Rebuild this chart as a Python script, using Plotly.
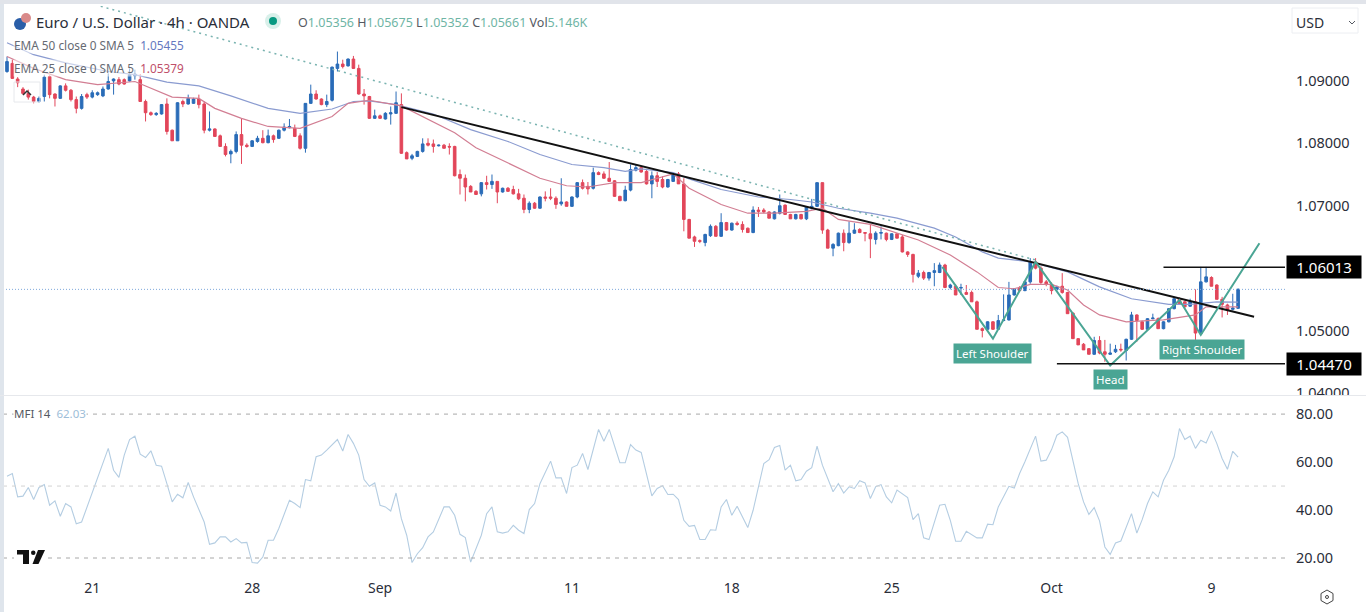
import plotly.graph_objects as go
from plotly.subplots import make_subplots

# 4h bars
open_ = [
    1.0915,1.0928,1.0903,1.0887,1.0880,1.0874,1.0867,1.0875,1.0907,1.0879,
    1.0872,1.0892,1.0885,1.0870,1.0856,1.0878,1.0874,1.0878,1.0876,1.0887,
    1.0900,1.0902,1.0902,1.0900,1.0908,1.0902,1.0867,1.0849,1.0846,1.0847,
    1.0863,1.0821,1.0804,1.0867,1.0863,1.0864,1.0871,1.0863,1.0821,1.0823,
    1.0812,1.0795,1.0783,1.0787,1.0814,1.0797,1.0795,1.0803,1.0808,1.0801,
    1.0812,1.0808,1.0821,1.0825,1.0824,1.0812,1.0792,1.0864,1.0879,1.0871,
    1.0862,1.0869,1.0920,1.0927,1.0924,1.0935,1.0920,1.0879,1.0875,1.0840,
    1.0844,1.0839,1.0847,1.0848,1.0862,1.0785,1.0776,1.0779,1.0787,1.0800,
    1.0799,1.0796,1.0797,1.0795,1.0795,1.0750,1.0744,1.0731,1.0723,1.0719,
    1.0737,1.0734,1.0739,1.0722,1.0728,1.0726,1.0719,1.0712,1.0694,1.0704,
    1.0696,1.0714,1.0714,1.0712,1.0703,1.0706,1.0699,1.0714,1.0737,1.0731,
    1.0728,1.0753,1.0751,1.0744,1.0740,1.0715,1.0708,1.0725,1.0757,1.0761,
    1.0755,1.0735,1.0748,1.0742,1.0730,1.0739,1.0751,1.0735,1.0678,1.0650,
    1.0644,1.0641,1.0652,1.0667,1.0651,1.0673,1.0661,1.0672,1.0670,1.0664,
    1.0657,1.0693,1.0693,1.0690,1.0679,1.0688,1.0701,1.0686,1.0679,1.0686,
    1.0679,1.0696,1.0699,1.0737,1.0661,1.0632,1.0636,1.0656,1.0641,1.0656,
    1.0662,1.0657,1.0655,1.0646,1.0656,1.0656,1.0646,1.0655,1.0650,1.0626,
    1.0622,1.0587,1.0593,1.0584,1.0593,1.0593,1.0605,1.0569,1.0571,1.0568,
    1.0561,1.0561,1.0546,1.0503,1.0502,1.0514,1.0502,1.0516,1.0517,1.0557,
    1.0569,1.0564,1.0578,1.0610,1.0600,1.0578,1.0574,1.0566,1.0571,1.0561,
    1.0528,1.0487,1.0478,1.0471,1.0462,1.0484,1.0466,1.0462,1.0466,1.0470,
    1.0468,1.0486,1.0525,1.0514,1.0502,1.0519,1.0519,1.0503,1.0514,1.0535,
    1.0551,1.0546,1.0539,1.0546,1.0495,1.0578,1.0585,1.0573,1.0550,1.0541,
    1.0534,1.05356,
]
high = [
    1.0939,1.0934,1.0906,1.0890,1.0886,1.0876,1.0875,1.0910,1.0909,1.0880,
    1.0893,1.0896,1.0887,1.0875,1.0879,1.0881,1.0885,1.0883,1.0891,1.0912,
    1.0904,1.0906,1.0904,1.0920,1.0918,1.0911,1.0870,1.0851,1.0850,1.0863,
    1.0872,1.0822,1.0866,1.0870,1.0878,1.0873,1.0878,1.0867,1.0851,1.0824,
    1.0814,1.0800,1.0790,1.0819,1.0840,1.0800,1.0805,1.0812,1.0821,1.0822,
    1.0814,1.0822,1.0832,1.0839,1.0830,1.0816,1.0864,1.0894,1.0885,1.0872,
    1.0878,1.0923,1.0947,1.0934,1.0936,1.0940,1.0926,1.0887,1.0876,1.0854,
    1.0846,1.0850,1.0859,1.0883,1.0880,1.0787,1.0783,1.0788,1.0808,1.0808,
    1.0806,1.0798,1.0799,1.0800,1.0796,1.0758,1.0750,1.0733,1.0725,1.0738,
    1.0748,1.0750,1.0739,1.0729,1.0730,1.0732,1.0727,1.0718,1.0707,1.0706,
    1.0715,1.0723,1.0728,1.0715,1.0744,1.0707,1.0715,1.0738,1.0742,1.0738,
    1.0761,1.0755,1.0755,1.0770,1.0741,1.0716,1.0732,1.0766,1.0766,1.0763,
    1.0757,1.0755,1.0754,1.0747,1.0743,1.0753,1.0754,1.0744,1.0679,1.0652,
    1.0646,1.0655,1.0670,1.0669,1.0688,1.0674,1.0673,1.0675,1.0675,1.0665,
    1.0699,1.0698,1.0696,1.0691,1.0691,1.0718,1.0702,1.0687,1.0687,1.0687,
    1.0699,1.0711,1.0737,1.0737,1.0663,1.0640,1.0657,1.0662,1.0675,1.0672,
    1.0664,1.0657,1.0670,1.0659,1.0667,1.0657,1.0656,1.0656,1.0653,1.0627,
    1.0623,1.0597,1.0596,1.0594,1.0608,1.0609,1.0607,1.0575,1.0574,1.0575,
    1.0573,1.0564,1.0548,1.0505,1.0515,1.0515,1.0525,1.0558,1.0578,1.0568,
    1.0571,1.0579,1.0616,1.0616,1.0603,1.0581,1.0577,1.0572,1.0592,1.0562,
    1.0529,1.0488,1.0480,1.0472,1.0490,1.0491,1.0485,1.0479,1.0477,1.0479,
    1.0487,1.0530,1.0526,1.0516,1.0520,1.0527,1.0521,1.0515,1.0536,1.0552,
    1.0553,1.0548,1.0551,1.0566,1.0602,1.0602,1.0587,1.0574,1.0554,1.0543,
    1.0559,1.05675,
]
low = [
    1.0913,1.0903,1.0890,1.0878,1.0870,1.0864,1.0865,1.0867,1.0872,1.0859,
    1.0871,1.0883,1.0867,1.0848,1.0854,1.0871,1.0872,1.0876,1.0874,1.0886,
    1.0878,1.0893,1.0894,1.0899,1.0902,1.0867,1.0835,1.0844,1.0844,1.0846,
    1.0814,1.0804,1.0804,1.0858,1.0862,1.0863,1.0856,1.0816,1.0819,1.0811,
    1.0795,1.0779,1.0768,1.0784,1.0767,1.0793,1.0794,1.0801,1.0800,1.0800,
    1.0801,1.0807,1.0819,1.0824,1.0810,1.0790,1.0785,1.0863,1.0870,1.0861,
    1.0858,1.0867,1.0915,1.0920,1.0923,1.0919,1.0878,1.0862,1.0839,1.0839,
    1.0839,1.0838,1.0830,1.0847,1.0783,1.0775,1.0773,1.0778,1.0785,1.0795,
    1.0785,1.0795,1.0792,1.0782,1.0747,1.0718,1.0707,1.0722,1.0718,1.0715,
    1.0726,1.0727,1.0704,1.0721,1.0722,1.0718,1.0709,1.0688,1.0688,1.0695,
    1.0695,1.0707,1.0709,1.0695,1.0700,1.0699,1.0698,1.0712,1.0726,1.0718,
    1.0726,1.0749,1.0743,1.0739,1.0714,1.0708,1.0707,1.0723,1.0755,1.0753,
    1.0734,1.0712,1.0730,1.0728,1.0729,1.0738,1.0735,1.0659,1.0648,1.0634,
    1.0640,1.0635,1.0650,1.0651,1.0650,1.0660,1.0660,1.0668,1.0657,1.0657,
    1.0656,1.0682,1.0688,1.0680,1.0678,1.0686,1.0686,1.0679,1.0678,1.0678,
    1.0677,1.0694,1.0698,1.0655,1.0632,1.0619,1.0635,1.0627,1.0639,1.0655,
    1.0656,1.0643,1.0616,1.0638,1.0646,1.0643,1.0645,1.0648,1.0625,1.0618,
    1.0577,1.0584,1.0581,1.0580,1.0571,1.0592,1.0568,1.0566,1.0557,1.0557,
    1.0557,1.0546,1.0502,1.0489,1.0500,1.0501,1.0501,1.0515,1.0516,1.0556,
    1.0564,1.0563,1.0575,1.0598,1.0573,1.0571,1.0558,1.0564,1.0559,1.0527,
    1.0487,1.0477,1.0469,1.0462,1.0461,1.0462,1.0450,1.0461,1.0464,1.0466,
    1.0452,1.0485,1.0482,1.0501,1.0501,1.0518,1.0503,1.0502,1.0513,1.0534,
    1.0541,1.0537,1.0538,1.0485,1.0493,1.0577,1.0571,1.0550,1.0521,1.0525,
    1.0532,1.05352,
]
close = [
    1.0931,1.0904,1.0897,1.0880,1.0874,1.0867,1.0872,1.0906,1.0878,1.0872,
    1.0892,1.0885,1.0870,1.0856,1.0875,1.0874,1.0881,1.0881,1.0887,1.0899,
    1.0903,1.0895,1.0895,1.0910,1.0911,1.0867,1.0849,1.0846,1.0848,1.0862,
    1.0819,1.0804,1.0865,1.0863,1.0872,1.0871,1.0862,1.0821,1.0823,1.0811,
    1.0795,1.0782,1.0787,1.0814,1.0797,1.0795,1.0804,1.0808,1.0801,1.0812,
    1.0806,1.0821,1.0826,1.0827,1.0811,1.0792,1.0864,1.0879,1.0871,1.0862,
    1.0867,1.0922,1.0927,1.0923,1.0935,1.0920,1.0879,1.0876,1.0840,1.0844,
    1.0840,1.0848,1.0849,1.0865,1.0784,1.0775,1.0780,1.0787,1.0799,1.0797,
    1.0795,1.0797,1.0792,1.0794,1.0748,1.0744,1.0730,1.0722,1.0718,1.0737,
    1.0734,1.0739,1.0722,1.0728,1.0723,1.0719,1.0711,1.0694,1.0704,1.0696,
    1.0714,1.0712,1.0712,1.0702,1.0706,1.0699,1.0714,1.0737,1.0728,1.0727,
    1.0753,1.0750,1.0744,1.0739,1.0715,1.0708,1.0725,1.0758,1.0761,1.0754,
    1.0735,1.0748,1.0739,1.0730,1.0742,1.0750,1.0735,1.0678,1.0648,1.0643,
    1.0643,1.0654,1.0667,1.0651,1.0673,1.0661,1.0672,1.0670,1.0662,1.0657,
    1.0693,1.0691,1.0690,1.0680,1.0690,1.0700,1.0686,1.0679,1.0686,1.0679,
    1.0698,1.0699,1.0737,1.0661,1.0632,1.0638,1.0656,1.0641,1.0656,1.0661,
    1.0657,1.0656,1.0647,1.0656,1.0657,1.0646,1.0655,1.0648,1.0626,1.0622,
    1.0590,1.0592,1.0584,1.0593,1.0596,1.0605,1.0569,1.0573,1.0557,1.0569,
    1.0558,1.0546,1.0502,1.0500,1.0514,1.0502,1.0516,1.0517,1.0557,1.0567,
    1.0564,1.0578,1.0610,1.0600,1.0577,1.0574,1.0564,1.0570,1.0561,1.0527,
    1.0487,1.0477,1.0469,1.0462,1.0484,1.0464,1.0462,1.0464,1.0470,1.0469,
    1.0486,1.0525,1.0516,1.0502,1.0519,1.0520,1.0503,1.0514,1.0535,1.0551,
    1.0542,1.0538,1.0546,1.0496,1.0578,1.0586,1.0571,1.0550,1.0542,1.0533,
    1.0536,1.05661,
]
bars = list(range(len(close)))

ema50_bar = [0,5,11,19,24,30,36,42,49,55,61,65,68,73,80,87,94,100,106,112,116,119,125,128,
             134,141,147,151,156,162,167,174,178,183,186,192,199,205,211,218,222,227,231]
ema50 = [1.0961,1.0942,1.0929,1.0915,1.0910,1.0898,1.0892,1.0876,1.0856,1.0848,1.0855,1.0867,
         1.0868,1.0862,1.0847,1.0822,1.0803,1.0782,1.0766,1.0761,1.0755,1.0759,1.0753,1.0743,
         1.0726,1.0714,1.0710,1.0706,1.0696,1.0688,1.0680,1.0664,1.0650,1.0626,1.0616,1.0610,
         1.0594,1.0570,1.0551,1.0542,1.0542,1.0546,1.05455]

ema25_bar = [0,5,11,17,24,27,31,36,39,44,49,55,57,61,64,68,74,78,84,88,96,100,105,109,114,119,
             125,128,134,139,144,150,153,156,162,167,171,177,182,186,189,192,196,199,202,205,
             210,214,217,223,225,231]
ema25 = [1.0939,1.0920,1.0902,1.0894,1.0899,1.0888,1.0874,1.0872,1.0856,1.0840,1.0827,1.0824,
         1.0830,1.0843,1.0864,1.0869,1.0860,1.0843,1.0817,1.0793,1.0761,1.0744,1.0732,1.0730,
         1.0737,1.0737,1.0751,1.0728,1.0702,1.0688,1.0688,1.0691,1.0696,1.0678,1.0670,1.0656,
         1.0645,1.0621,1.0594,1.0569,1.0567,1.0574,1.0574,1.0565,1.0541,1.0525,1.0514,1.0516,
         1.0517,1.0525,1.0538,1.05379]

mfi_bar = [0,1,2,3,4,5,6,7,8,9,10,11,12,13,14,15,17,19,20,21,22,23,24,25,26,27,28,29,30,31,32,33,
           34,35,37,38,39,40,41,42,43,44,45,46,47,48,49,50,51,53,54,55,56,57,58,59,60,62,63,64,
           65,66,67,68,69,70,71,72,73,74,75,76,77,78,79,80,82,83,84,85,86,87,89,90,91,92,93,94,
           95,96,97,98,99,100,102,103,104,105,106,107,108,109,111,112,113,114,115,116,117,118,
           119,121,122,123,124,125,126,127,128,129,130,131,132,133,134,135,136,137,139,140,142,
           143,144,145,146,147,148,149,150,151,152,153,155,156,157,158,159,160,161,162,163,164,
           165,166,167,169,170,171,172,173,175,176,177,178,179,180,181,182,183,184,185,186,188,
           189,190,191,193,194,195,196,197,198,199,200,201,202,203,204,205,206,207,208,209,211,
           212,213,214,215,216,217,218,219,220,221,222,223,224,225,226,227,228,229,230,231]
mfi = [54.1,55.2,45.5,45.8,49.4,44.4,49.4,50.6,42.0,43.8,37.4,42.7,41.3,34.3,35.0,41.3,53.1,65.7,
       56.6,53.6,62.9,69.4,70.8,63.3,61.9,64.7,58.7,58.3,51.0,43.4,46.6,45.1,51.5,45.5,35.0,25.7,
       26.3,28.8,28.8,26.7,28.1,26.3,26.5,18.1,17.9,20.4,27.4,27.4,32.3,44.1,42.7,41.0,52.7,52.2,
       62.2,62.9,65.0,69.4,64.6,71.5,67.8,62.9,52.7,49.9,51.3,42.0,41.3,39.6,47.1,36.4,29.5,18.1,
       21.8,24.3,28.8,30.9,41.3,41.3,37.8,29.9,28.5,18.3,29.5,38.5,41.3,30.9,30.4,30.9,33.6,31.6,
       30.2,40.2,42.7,51.0,60.4,53.4,53.4,46.9,57.7,58.7,63.6,56.9,73.6,68.7,73.6,67.1,59.7,59.7,
       67.3,65.0,64.0,45.9,49.0,50.1,46.5,46.6,44.4,35.7,33.2,33.6,27.7,27.7,31.8,31.6,41.3,44.4,
       37.8,41.6,32.7,39.9,59.4,61.0,66.1,66.9,56.6,58.7,52.2,52.7,56.2,57.7,66.6,58.7,47.6,51.0,
       47.1,49.7,49.0,52.2,51.3,44.8,49.7,50.6,45.5,43.0,48.3,45.2,36.0,38.5,28.4,27.7,42.0,42.4,
       35.7,27.0,27.0,31.1,29.9,28.4,28.4,34.1,33.9,41.3,49.9,49.2,55.2,60.1,70.8,60.4,60.8,65.2,
       71.2,72.6,70.3,60.1,51.0,43.4,38.2,41.0,35.5,24.6,21.5,26.3,27.1,38.5,30.4,36.0,42.7,47.6,
       45.5,52.4,56.6,62.2,74.0,69.4,70.8,65.7,69.1,68.0,73.0,67.8,61.5,57.0,64.5,62.03]

# drawn lines
trend_bar = [74, 234]
trend_price = [1.0858, 1.0522]
dotted_bar = [16.5, 193]
dotted_price = [1.1022, 1.0613]
pattern_bar = [175.5, 185, 193, 207, 220, 224, 235]
pattern_price = [1.0602, 1.0487, 1.0610, 1.0444, 1.0549, 1.0493, 1.0640]
level_high_bar = [217, 240]
level_high = [1.06013, 1.06013]
level_low_bar = [197, 240]
level_low = [1.04470, 1.04470]
last_price = 1.0566

tick_bars = [16, 46, 70, 106, 136, 166, 196, 226]
tick_labels = ["21", "28", "Sep", "11", "18", "25", "Oct", "9"]
price_ticks = [1.04, 1.05, 1.07, 1.08, 1.09]
mfi_ticks = [20, 40, 60, 80]

FONT = "Noto Sans"
INK = "#2a2e39"
BLUE = "#2a6cb8"
RED = "#e2465a"
TEAL = "#4aa594"
VAL = "#6fb5a5"
VEIL = "rgba(255,255,255,0.55)"

W, H = 1366, 612
L, R, T, B = 3, 81, 6, 34
pw, ph = W - L - R, H - T - B


# page pixels to paper coords, for the furniture around the plot
def px(x):
    return (x - L) / pw


def py(y):
    return 1 - (y - T) / ph


fig = make_subplots(rows=2, cols=1, shared_xaxes=True, vertical_spacing=0.002,
                    row_heights=[0.68, 0.318])

fig.add_trace(go.Candlestick(x=bars, open=open_, high=high, low=low, close=close,
                             increasing=dict(line=dict(color=BLUE, width=1), fillcolor=BLUE),
                             decreasing=dict(line=dict(color=RED, width=1), fillcolor=RED),
                             whiskerwidth=0, showlegend=False), row=1, col=1)
fig.add_trace(go.Scatter(x=ema50_bar, y=ema50, mode="lines", line=dict(color="#8a9bd0", width=1.2)),
              row=1, col=1)
fig.add_trace(go.Scatter(x=ema25_bar, y=ema25, mode="lines", line=dict(color="#d27e93", width=1.2)),
              row=1, col=1)
fig.add_trace(go.Scatter(x=dotted_bar, y=dotted_price, mode="lines",
                         line=dict(color="#79b3b0", width=1.5, dash="2px,4px")), row=1, col=1)
fig.add_trace(go.Scatter(x=trend_bar, y=trend_price, mode="lines", line=dict(color="#111111", width=2)),
              row=1, col=1)
fig.add_trace(go.Scatter(x=pattern_bar, y=pattern_price, mode="lines", line=dict(color=TEAL, width=2)),
              row=1, col=1)
fig.add_trace(go.Scatter(x=level_high_bar, y=level_high, mode="lines", line=dict(color="#111111", width=1.5)),
              row=1, col=1)
fig.add_trace(go.Scatter(x=level_low_bar, y=level_low, mode="lines", line=dict(color="#111111", width=1.5)),
              row=1, col=1)
fig.add_hline(y=last_price, row=1, col=1, line=dict(color="#7fa9dc", width=1, dash="1px,2px"))

fig.add_trace(go.Scatter(x=mfi_bar, y=mfi, mode="lines", line=dict(color="#b4cde2", width=1.1)),
              row=2, col=1)
fig.add_hline(y=80, row=2, col=1, line=dict(color="#a8a8a8", width=1, dash="4px,5px"))
fig.add_hline(y=50, row=2, col=1, line=dict(color="#d2d2d2", width=1, dash="4px,5px"))
fig.add_hline(y=20, row=2, col=1, line=dict(color="#a8a8a8", width=1, dash="4px,5px"))

fig.update_xaxes(range=[-0.75, 239.8], showgrid=False, zeroline=False, showline=False,
                 rangeslider_visible=False, ticks="", fixedrange=True)
fig.update_xaxes(tickmode="array", tickvals=tick_bars, ticktext=tick_labels,
                 tickfont=dict(family=FONT, size=14, color=INK), row=2, col=1)
fig.update_yaxes(showgrid=False, zeroline=False, showline=False, side="right", ticks="",
                 ticklabelstandoff=10, tickfont=dict(family=FONT, size=14.5, color=INK), fixedrange=True)
fig.update_yaxes(range=[1.03968, 1.1020], tickvals=price_ticks, tickformat=".5f", row=1, col=1)
fig.update_yaxes(range=[11.67, 87.5], tickvals=mfi_ticks, tickformat=".2f", row=2, col=1)

notes = [
    dict(x=px(35), y=py(22), text="Euro / U.S. Dollar · 4h · OANDA", size=15, color=INK),
    dict(x=px(297), y=py(22), size=12.5, color="#555962",
         text=f"O<span style='color:{VAL}'>1.05356</span> H<span style='color:{VAL}'>1.05675</span> "
              f"L<span style='color:{VAL}'>1.05352</span> C<span style='color:{VAL}'>1.05661</span> "
              f"Vol<span style='color:{VAL}'>5.146K</span>"),
    dict(x=px(13), y=py(45), size=11.8, color="#666a73", bg=VEIL,
         text="EMA 50 close 0 SMA 5 &nbsp;<span style='color:#6478c0'>1.05455</span>"),
    dict(x=px(13), y=py(68), size=11.8, color="#666a73", bg=VEIL,
         text="EMA 25 close 0 SMA 5 &nbsp;<span style='color:#c0506a'>1.05379</span>"),
    dict(x=px(13), y=py(413), size=11.5, color="#555962", bg="white",
         text="MFI 14 &nbsp;<span style='color:#9dbdd8'>62.03</span>"),
    dict(x=px(1295), y=py(22), text="USD", size=14, color=INK),
]
for n in notes:
    fig.add_annotation(xref="paper", yref="paper", x=n["x"], y=n["y"], text=n["text"], showarrow=False,
                       xanchor="left", yanchor="middle", bgcolor=n.get("bg", "rgba(0,0,0,0)"),
                       borderpad=0, font=dict(family=FONT, size=n["size"], color=n["color"]))

# pattern badges
for bar, price, label in [(185, 1.0464, "Left Shoulder"), (207, 1.0421, "Head"), (224.2, 1.0469, "Right Shoulder")]:
    fig.add_annotation(x=bar, y=price, xref="x", yref="y", text=label, showarrow=False, bgcolor=TEAL,
                       borderpad=2, font=dict(family=FONT, size=11.5, color="white"))

# black price tags on the axis
for price, label in [(1.06013, "1.06013"), (1.04470, "1.04470")]:
    fig.add_annotation(xref="paper", yref="y", x=1, y=price, text=label, showarrow=False, xanchor="left",
                       xshift=1, width=72, height=20, bgcolor="black", align="center",
                       font=dict(family=FONT, size=15, color="white"))

shapes = [
    dict(type="rect", x0=px(0), x1=px(4), y0=py(0), y1=py(612), fillcolor="#dfe5ec", line_width=0),
    dict(type="rect", x0=px(0), x1=px(1366), y0=py(0), y1=py(4), fillcolor="#e1e4ea", line_width=0),
    # cuts the lowest price tick the way the pane edge does
    dict(type="rect", x0=px(1286), x1=px(1366), y0=py(395), y1=py(408), fillcolor="white", line_width=0),
    dict(type="line", x0=px(0), x1=px(1366), y0=py(395.5), y1=py(395.5), line=dict(color="#e6e8ec", width=1)),
    # USD box
    dict(type="rect", x0=px(1292), x1=px(1358), y0=py(8), y1=py(33), line=dict(color="#eceef2", width=1)),
    dict(type="path", path=f"M {px(1349)} {py(21)} L {px(1352)} {py(24)} L {px(1355)} {py(21)}",
         line=dict(color="#555962", width=1)),
    # status dot
    dict(type="circle", x0=px(265), x1=px(281), y0=py(13), y1=py(29), fillcolor="#d9f0ea", line_width=0),
    dict(type="circle", x0=px(269), x1=px(277), y0=py(17), y1=py(25), fillcolor="#089981", line_width=0),
    # symbol flags
    dict(type="circle", x0=px(14), x1=px(26), y0=py(18), y1=py(30), fillcolor="#2a5ea8", line_width=0),
    dict(type="circle", x0=px(21), x1=px(31), y0=py(13), y1=py(23), fillcolor="#d98a8a", line_width=0),
    # collapse button
    dict(type="rect", x0=px(14), x1=px(40), y0=py(82), y1=py(102), line=dict(color="#e6e8ec", width=1)),
    dict(type="path", path=f"M {px(23)} {py(95)} L {px(27)} {py(91)} L {px(31)} {py(95)}",
         line=dict(color="#333333", width=1.5)),
    # logo, on a white patch that breaks the dashed line
    dict(type="rect", x0=px(14), x1=px(47), y0=py(548), y1=py(567), fillcolor="white", line_width=0),
    dict(type="path", path=f"M {px(17)} {py(550)} L {px(29)} {py(550)} L {px(29)} {py(564)} L {px(23)} {py(564)} "
                           f"L {px(23)} {py(554.5)} L {px(17)} {py(554.5)} Z", fillcolor="#111111", line_width=0),
    dict(type="circle", x0=px(31), x1=px(35.5), y0=py(550.5), y1=py(555), fillcolor="#111111", line_width=0),
    dict(type="path", path=f"M {px(38)} {py(550)} L {px(45)} {py(550)} L {px(38.5)} {py(564)} L {px(32.5)} {py(564)} Z",
         fillcolor="#111111", line_width=0),
    # settings icon
    dict(type="path", path=f"M {px(1327)} {py(590)} L {px(1333)} {py(593.5)} L {px(1333)} {py(600.5)} "
                           f"L {px(1327)} {py(604)} L {px(1321)} {py(600.5)} L {px(1321)} {py(593.5)} Z",
         line=dict(color="#444444", width=1)),
    dict(type="circle", x0=px(1325.5), x1=px(1328.5), y0=py(595.5), y1=py(598.5), line=dict(color="#444444", width=1)),
]
for s in shapes:
    fig.add_shape(xref="paper", yref="paper", **s)

fig.update_layout(width=W, height=H, margin=dict(l=L, r=R, t=T, b=B), paper_bgcolor="white",
                  plot_bgcolor="white", showlegend=False, hovermode=False,
                  font=dict(family=FONT, color=INK))

fig.write_html("out.html", config=dict(displayModeBar=False),
               post_script="document.body.style.margin='0';")
